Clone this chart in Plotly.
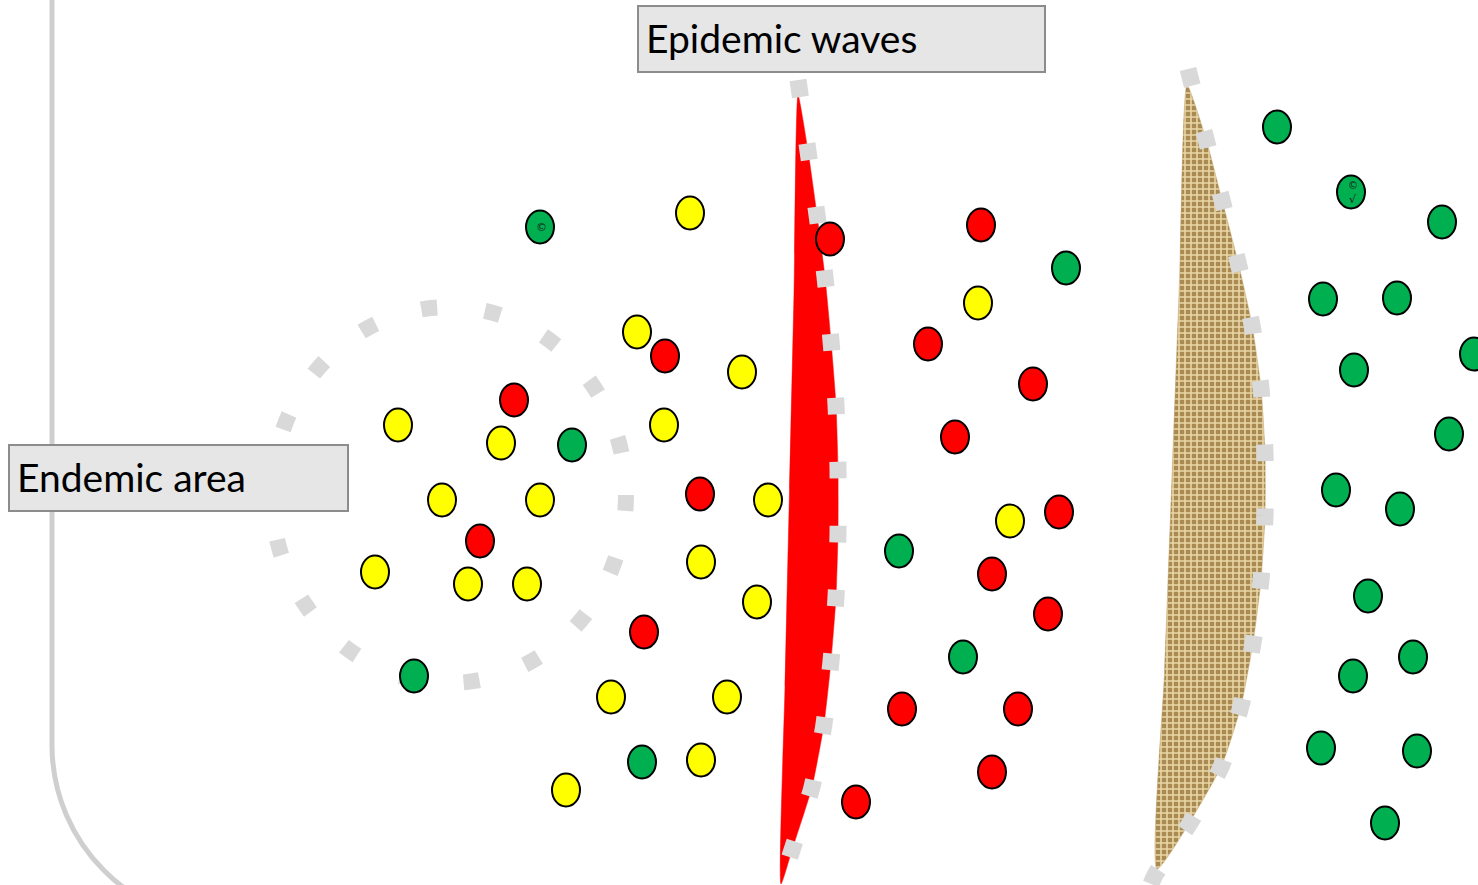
import plotly.graph_objects as go

W, H = 1478, 885

# --- data ---------------------------------------------------------------
yellow_x = [690, 637, 742, 398, 501, 664, 442, 540, 768, 375, 468, 527, 701, 757, 611, 727, 701, 566, 978, 1010]
yellow_y = [213, 332, 372, 425, 443, 425, 500, 500, 500, 572, 584, 584, 562, 602, 697, 697, 760, 790, 303, 521]

red_x = [830, 981, 665, 514, 928, 1033, 955, 700, 480, 1059, 992, 1048, 644, 902, 1018, 992, 856]
red_y = [239, 225, 356, 400, 344, 384, 437, 494, 541, 512, 574, 614, 632, 709, 709, 772, 802]

green_x = [540, 572, 414, 642, 1066, 899, 963, 1277, 1351, 1442, 1323, 1397, 1354, 1474, 1449,
           1336, 1400, 1368, 1413, 1353, 1321, 1417, 1385]
green_y = [227, 445, 676, 762, 268, 551, 657, 127, 192, 222, 299, 298, 370, 354, 434,
           490, 509, 596, 657, 676, 748, 751, 823]

# wave right edges (top to bottom) - dotted outline
red_edge_x = [798, 808, 817, 825, 831, 836, 838, 838, 836, 831, 824, 812, 792, 781]
red_edge_y = [80, 151, 215, 277, 341, 405, 469, 533, 597, 661, 724, 787, 850, 884]
# wave left edges (bottom to top) - straight side
red_left_x = [781, 785, 789.5, 794, 798]
red_left_y = [884, 687, 490, 293, 95]

brown_edge_x = [1188, 1206, 1222, 1238, 1252, 1261, 1265, 1265, 1261, 1253, 1241, 1221, 1190, 1155, 1151]
brown_edge_y = [69, 139, 200, 262, 325, 388, 452, 516, 580, 643, 706, 767, 823, 875, 884]
brown_left_x = [1157, 1164.5, 1172, 1179.5, 1187]
brown_left_y = [869, 673, 477, 281, 85]

# endemic area dotted ring
ring_cx, ring_cy, ring_rx, ring_ry = 449, 495, 177, 188

labels = ["Endemic area", "Epidemic waves"]
label_boxes = [(9, 445, 348, 511), (638, 6, 1045, 72)]

# --- figure -------------------------------------------------------------
fig = go.Figure()
shapes = []

# outer gray border line (rounded corner)
shapes.append(dict(type="path", layer="below",
                   path="M 52,-5 L 52,745 C 52,843 132,923 230,923",
                   line=dict(color="#cfcfcf", width=5)))
# dotted ring
shapes.append(dict(type="circle", layer="below",
                   x0=ring_cx - ring_rx, x1=ring_cx + ring_rx,
                   y0=ring_cy - ring_ry, y1=ring_cy + ring_ry,
                   line=dict(color="#d9d9d9", width=16, dash="16px,48px")))

# red wave
rx = red_left_x + red_edge_x[1:-1] + [red_left_x[0]]
ry = red_left_y + red_edge_y[1:-1] + [red_left_y[0]]
fig.add_trace(go.Scatter(x=rx, y=ry, mode="lines", fill="toself",
                         fillcolor="#ff0000", line=dict(color="#ff0000", width=0.5, shape="spline", smoothing=0.5),
                         hoverinfo="skip"))
fig.add_trace(go.Scatter(x=red_edge_x, y=red_edge_y, mode="lines",
                         line=dict(color="#d9d9d9", width=17, dash="17px,47px", shape="spline", smoothing=0.6),
                         hoverinfo="skip"))

# brown (burlap) wave
bx = brown_left_x + brown_edge_x[1:-3] + [brown_left_x[0]]
by = brown_left_y + brown_edge_y[1:-3] + [brown_left_y[0]]
fig.add_trace(go.Scatter(x=bx, y=by, mode="lines", fill="toself",
                         fillcolor="#bd9f66",
                         fillpattern=dict(shape="+", bgcolor="#a98a52", fgcolor="#ead8a6",
                                          size=6, solidity=0.45, fillmode="replace"),
                         line=dict(color="#bd9f66", width=0.5, shape="spline", smoothing=0.5),
                         hoverinfo="skip"))
fig.add_trace(go.Scatter(x=brown_edge_x, y=brown_edge_y, mode="lines",
                         line=dict(color="#d9d9d9", width=17, dash="17px,47px", shape="spline", smoothing=0.6),
                         hoverinfo="skip"))

# circles (ellipses)
def add_dots(xs, ys, color):
    for cx, cy in zip(xs, ys):
        shapes.append(dict(type="circle", layer="above", xref="x", yref="y",
                           x0=cx - 14, x1=cx + 14, y0=cy - 16.5, y1=cy + 16.5,
                           fillcolor=color, line=dict(color="#000000", width=2)))

add_dots(yellow_x, yellow_y, "#ffff00")
add_dots(red_x, red_y, "#ff0000")
add_dots(green_x, green_y, "#00b050")

# label boxes
annotations = []
for text, (x0, y0, x1, y1) in zip(labels, label_boxes):
    shapes.append(dict(type="rect", layer="above", x0=x0, x1=x1, y0=y0, y1=y1,
                       fillcolor="#e6e6e6", line=dict(color="#8c8c8c", width=2)))
    annotations.append(dict(x=x0 + 6, y=(y0 + y1) / 2 - 1, xref="x", yref="y", text=text,
                            showarrow=False, xanchor="left", yanchor="middle",
                            font=dict(family="Lato", size=39, color="#000000")))

# small symbols on green dots
annotations.append(dict(x=green_x[0] + 1, y=green_y[0], text="©", showarrow=False,
                        font=dict(family="DejaVu Sans", size=11, color="#1a1a1a")))
annotations.append(dict(x=green_x[8] + 2, y=green_y[8] - 7, text="©", showarrow=False,
                        font=dict(family="DejaVu Sans", size=10, color="#1a1a1a")))
annotations.append(dict(x=green_x[8] + 2, y=green_y[8] + 7, text="√", showarrow=False,
                        font=dict(family="DejaVu Sans", size=11, color="#1a1a1a")))

fig.update_layout(
    width=W, height=H, margin=dict(l=0, r=0, t=0, b=0),
    paper_bgcolor="white", plot_bgcolor="white", showlegend=False, hovermode=False,
    xaxis=dict(range=[0, W], visible=False, fixedrange=True),
    yaxis=dict(range=[H, 0], visible=False, fixedrange=True),
    shapes=shapes, annotations=annotations,
)

fig.write_html("out.html", config={"displayModeBar": False},
               post_script="document.body.style.margin='0';document.body.style.overflow='hidden';")
